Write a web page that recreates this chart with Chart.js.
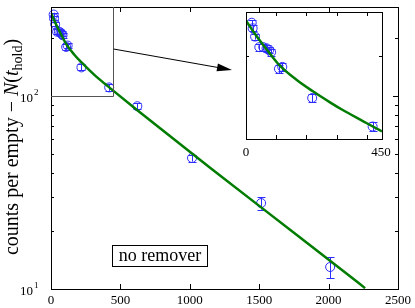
<!DOCTYPE html>
<html>
<head>
<meta charset="utf-8">
<script src="https://cdn.jsdelivr.net/npm/chart.js@4.4.0/dist/chart.umd.min.js"></script>
<style>
  html, body { margin: 0; padding: 0; background: #fff; }
  #wrap { position: relative; width: 415px; height: 308px; }
  #wrap canvas { position: absolute; left: 0; top: 0; }
</style>
</head>
<body>
<div id="wrap">
  <canvas id="main-chart" width="415" height="308"></canvas>
  <canvas id="inset-chart" width="415" height="308"></canvas>
</div>
<script>
//Measured points (hold time in s, counts, error)
const holdTimes = [19, 22, 30, 44, 57, 68, 77, 83, 109, 120, 219, 419, 622, 1016, 1514, 2011];
const counts = [265, 253, 236, 216, 216, 214, 211, 207, 180, 183, 141, 111, 88.7, 47.8, 27.9, 13.0];
const countErrors = [6, 6, 6, 6, 6, 6, 6, 6, 6, 6, 5, 4.4, 3, 2, 2.1, 1.6];
//Fit curve
const fitTimes = [0, 30, 83, 112, 168, 220, 278, 320, 388, 450, 622, 1016, 1183, 1514, 2131, 2263];
const fitCounts = [270, 241, 202, 185, 164, 149.5, 136, 127.5, 116, 106.5, 84.6, 50.4, 40.6, 26.5, 12.0, 10.1];
//Main axes ticks
const xTicks = [0, 500, 1000, 1500, 2000, 2500];
const xTickLabels = ["0", "500", "1000", "1500", "2000", "2500"];
const yMajorTicks = [10, 100];
const yMajorExponents = ["1", "2"];
const yMinorTicks = [20, 30, 40, 50, 60, 70, 80, 90, 200];
//Inset axes ticks
const insetXTicks = [0, 100, 200, 300, 400];
const insetXLabelValues = [0, 450];
const insetXLabels = ["0", "450"];
const insetYMinorTicks = [200];

const dataBlue = "rgb(45,45,255)";
const fitGreen = "rgb(0,125,0)";
const serif = "'Liberation Serif', 'Times New Roman', serif";

function toPoints(xs, ys, maxX) {
  const pts = [];
  xs.forEach((x, i) => {
    if (maxX === undefined || x <= maxX) pts.push({ x: x, y: ys[i] });
  });
  return pts;
}

//Error bars drawn under the markers
const errorBarPlugin = {
  id: "errorBars",
  beforeDatasetsDraw(chart) {
    const { ctx } = chart;
    const x = chart.scales.x;
    const y = chart.scales.y;
    ctx.save();
    ctx.strokeStyle = dataBlue;
    ctx.lineWidth = 1;
    holdTimes.forEach((t, i) => {
      if (t > x.max) return;
      const px = Math.round(x.getPixelForValue(t)) + 0.5;
      const top = y.getPixelForValue(counts[i] + countErrors[i]);
      const bottom = y.getPixelForValue(counts[i] - countErrors[i]);
      ctx.beginPath();
      ctx.moveTo(px, top);
      ctx.lineTo(px, bottom);
      ctx.moveTo(px - 4, Math.round(top) + 0.5);
      ctx.lineTo(px + 4, Math.round(top) + 0.5);
      ctx.moveTo(px - 4, Math.round(bottom) + 0.5);
      ctx.lineTo(px + 4, Math.round(bottom) + 0.5);
      ctx.stroke();
    });
    ctx.restore();
  },
};

function drawFrame(ctx, area) {
  ctx.strokeRect(Math.round(area.left) + 0.5, Math.round(area.top) + 0.5,
    Math.round(area.right - area.left), Math.round(area.bottom - area.top));
}

//Inward ticks on all four sides
function drawTicks(ctx, area, scale, values, len, axis) {
  values.forEach((v) => {
    const p = Math.round(scale.getPixelForValue(v)) + 0.5;
    ctx.beginPath();
    if (axis === "x") {
      ctx.moveTo(p, area.bottom);
      ctx.lineTo(p, area.bottom - len);
      ctx.moveTo(p, area.top);
      ctx.lineTo(p, area.top + len);
    } else {
      ctx.moveTo(area.left, p);
      ctx.lineTo(area.left + len, p);
      ctx.moveTo(area.right, p);
      ctx.lineTo(area.right - len, p);
    }
    ctx.stroke();
  });
}

const mainAxesPlugin = {
  id: "mainAxes",
  afterDraw(chart) {
    const { ctx, chartArea: area } = chart;
    const x = chart.scales.x;
    const y = chart.scales.y;
    ctx.save();
    ctx.strokeStyle = "#000";
    ctx.fillStyle = "#000";
    ctx.lineWidth = 1;
    drawFrame(ctx, area);
    drawTicks(ctx, area, x, xTicks, 5, "x");
    drawTicks(ctx, area, y, yMajorTicks, 5, "y");
    drawTicks(ctx, area, y, yMinorTicks, 3, "y");

    //x tick labels
    ctx.font = "13px " + serif;
    ctx.textAlign = "center";
    ctx.textBaseline = "alphabetic";
    xTicks.forEach((v, i) => {
      ctx.fillText(xTickLabels[i], x.getPixelForValue(v), area.bottom + 15);
    });

    //y tick labels 10^n
    yMajorTicks.forEach((v, i) => {
      const p = y.getPixelForValue(v);
      ctx.font = "13px " + serif;
      ctx.textAlign = "right";
      ctx.fillText("10", 33, p + 6);
      ctx.font = "9px " + serif;
      ctx.textAlign = "left";
      ctx.fillText(yMajorExponents[i], 34, p - 1);
    });

    //zoom region box
    ctx.strokeStyle = "#555";
    const zx = Math.round(x.getPixelForValue(450)) + 0.5;
    const zy = Math.round(y.getPixelForValue(100)) + 0.5;
    ctx.beginPath();
    ctx.moveTo(area.left, zy);
    ctx.lineTo(zx, zy);
    ctx.lineTo(zx, area.top);
    ctx.stroke();

    //arrow to the inset
    ctx.strokeStyle = "#000";
    const ax0 = zx, ay0 = 49, ax1 = 232, ay1 = 70;
    const ang = Math.atan2(ay1 - ay0, ax1 - ax0);
    ctx.beginPath();
    ctx.moveTo(ax0, ay0);
    ctx.lineTo(ax1 - 12 * Math.cos(ang), ay1 - 12 * Math.sin(ang));
    ctx.stroke();
    ctx.beginPath();
    ctx.moveTo(ax1, ay1);
    ctx.lineTo(ax1 - 15 * Math.cos(ang) + 4 * Math.sin(ang), ay1 - 15 * Math.sin(ang) - 4 * Math.cos(ang));
    ctx.lineTo(ax1 - 15 * Math.cos(ang) - 4 * Math.sin(ang), ay1 - 15 * Math.sin(ang) + 4 * Math.cos(ang));
    ctx.closePath();
    ctx.fill();

    //"no remover" label box
    ctx.fillStyle = "#fff";
    ctx.fillRect(112, 245, 95, 21);
    ctx.strokeRect(112.5, 245.5, 95, 21);
    ctx.fillStyle = "#000";
    ctx.font = "18px " + serif;
    ctx.textAlign = "center";
    ctx.fillText("no remover", 160, 261);

    //y axis title: counts per empty − N(t_hold)
    const parts = [
      { text: "counts per empty \u2212 ", font: "20px " + serif, dy: 0 },
      { text: "N", font: "italic 20px " + serif, dy: 0 },
      { text: "(", font: "20px " + serif, dy: 0 },
      { text: "t", font: "italic 20px " + serif, dy: 0 },
      { text: "hold", font: "14px " + serif, dy: 4 },
      { text: ")", font: "20px " + serif, dy: 0 },
    ];
    let total = 0;
    parts.forEach((p) => {
      ctx.font = p.font;
      p.w = ctx.measureText(p.text).width;
      total += p.w;
    });
    ctx.translate(18, 147 + total / 2);
    ctx.rotate(-Math.PI / 2);
    ctx.textAlign = "left";
    let cursor = 0;
    parts.forEach((p) => {
      ctx.font = p.font;
      ctx.fillText(p.text, cursor, p.dy);
      cursor += p.w;
    });
    ctx.restore();
  },
};

const insetAxesPlugin = {
  id: "insetAxes",
  beforeDraw(chart) {
    const { ctx, chartArea: area } = chart;
    ctx.save();
    ctx.fillStyle = "#fff";
    ctx.fillRect(area.left, area.top, area.right - area.left, area.bottom - area.top);
    ctx.restore();
  },
  afterDraw(chart) {
    const { ctx, chartArea: area } = chart;
    const x = chart.scales.x;
    const y = chart.scales.y;
    ctx.save();
    ctx.strokeStyle = "#000";
    ctx.fillStyle = "#000";
    ctx.lineWidth = 1;
    drawFrame(ctx, area);
    drawTicks(ctx, area, x, insetXTicks, 4, "x");
    drawTicks(ctx, area, y, insetYMinorTicks, 3, "y");
    ctx.font = "13px " + serif;
    ctx.textAlign = "center";
    insetXLabelValues.forEach((v, i) => {
      ctx.fillText(insetXLabels[i], x.getPixelForValue(v) - (i ? 1 : 0), area.bottom + 17);
    });
    ctx.restore();
  },
};

const mainChart = new Chart(document.getElementById("main-chart"), {
  type: "scatter",
  data: {
    datasets: [
      {
        label: "fit",
        data: toPoints(fitTimes, fitCounts),
        showLine: true,
        borderColor: fitGreen,
        borderWidth: 2.5,
        pointRadius: 0,
        cubicInterpolationMode: "monotone",
        clip: 0,
      },
      {
        label: "no remover",
        data: toPoints(holdTimes, counts),
        showLine: false,
        pointRadius: 4.5,
        pointBorderWidth: 1,
        pointBorderColor: dataBlue,
        pointBackgroundColor: "rgba(0,0,0,0)",
        clip: false,
      },
    ],
  },
  options: {
    responsive: false,
    animation: false,
    events: [],
    layout: { padding: { left: 51, right: 17, top: 7, bottom: 19 } },
    plugins: { legend: { display: false }, tooltip: { enabled: false } },
    scales: {
      x: { type: "linear", min: 0, max: 2500, display: false },
      y: { type: "logarithmic", min: 10, max: 290, display: false },
    },
  },
  plugins: [errorBarPlugin, mainAxesPlugin],
});

const insetChart = new Chart(document.getElementById("inset-chart"), {
  type: "scatter",
  data: {
    datasets: [
      {
        label: "fit",
        data: toPoints(fitTimes, fitCounts, 622),
        showLine: true,
        borderColor: fitGreen,
        borderWidth: 2.5,
        pointRadius: 0,
        cubicInterpolationMode: "monotone",
        clip: 0,
      },
      {
        label: "no remover",
        data: toPoints(holdTimes, counts, 450),
        showLine: false,
        pointRadius: 4.5,
        pointBorderWidth: 1,
        pointBorderColor: dataBlue,
        pointBackgroundColor: "rgba(0,0,0,0)",
        clip: 0,
      },
    ],
  },
  options: {
    responsive: false,
    animation: false,
    events: [],
    layout: { padding: { left: 246, right: 33, top: 12, bottom: 169 } },
    plugins: { legend: { display: false }, tooltip: { enabled: false } },
    scales: {
      x: { type: "linear", min: 0, max: 450, display: false },
      y: { type: "logarithmic", min: 100, max: 290, display: false },
    },
  },
  plugins: [errorBarPlugin, insetAxesPlugin],
});
</script>
</body>
</html>
